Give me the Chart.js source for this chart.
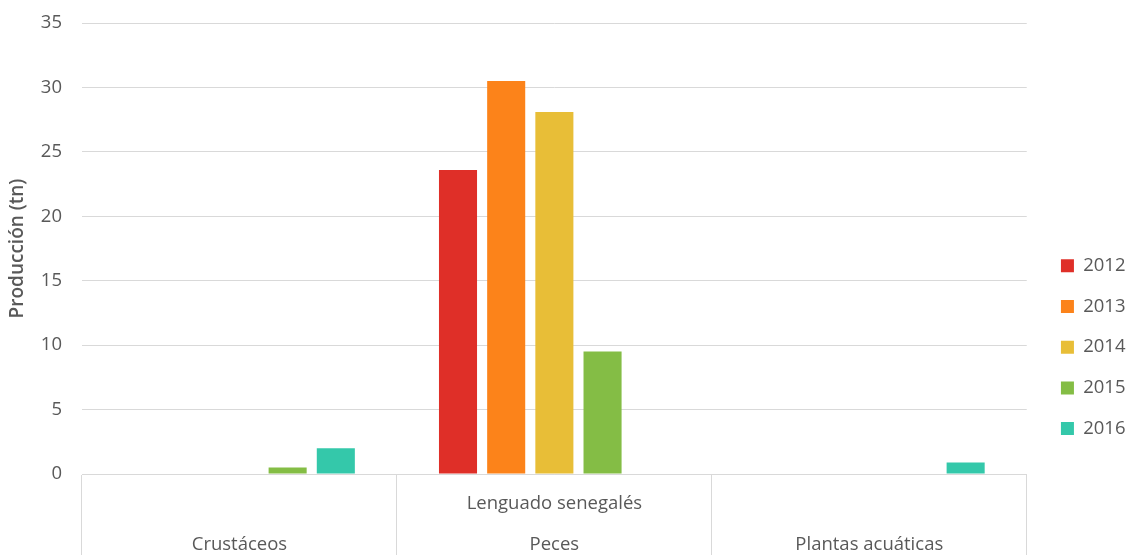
<!DOCTYPE html>
<html>
<head>
<meta charset="utf-8">
<script src="https://cdn.jsdelivr.net/npm/chart.js@4"></script>
<style>
  html, body { margin: 0; padding: 0; background: #fff; }
  #wrap { width: 1129px; height: 555px; }
</style>
</head>
<body>
<div id="wrap"><canvas id="chart"></canvas></div>
<script>
const categories = ['Crustáceos', 'Peces', 'Plantas acuáticas'];
const subLabels = ['', 'Lenguado senegalés', ''];
const years = ['2012', '2013', '2014', '2015', '2016'];
const v2012 = [null, 23.6, null];
const v2013 = [null, 30.5, null];
const v2014 = [null, 28.1, null];
const v2015 = [0.5, 9.5, null];
const v2016 = [2.0, null, 0.9];
const yTicks = [0, 5, 10, 15, 20, 25, 30, 35];

const colors = ['#df2f28', '#fc831a', '#e8be37', '#84bd45', '#34c8aa'];
const series = [v2012, v2013, v2014, v2015, v2016];
const grey = '#595959';
const gridCol = '#d9d9d9';
const font = 'Open Sans';

function loadChart(id) {
  const ctx = document.getElementById(id);
  new Chart(ctx, {
    type: 'bar',
    data: {
      labels: categories.map((c, i) => [subLabels[i], c]),
      datasets: years.map((y, i) => ({
        label: y,
        data: series[i],
        backgroundColor: colors[i],
        categoryPercentage: 0.765,
        barPercentage: 0.79
      }))
    },
    options: {
      responsive: true,
      maintainAspectRatio: false,
      animation: false,
      layout: { padding: { top: 23, right: -6.5, left: 0, bottom: 0 } },
      plugins: {
        tooltip: { enabled: false },
        legend: {
          position: 'right',
          align: 'center',
          title: { display: true, text: '', padding: { top: 0, bottom: 102 } },
          labels: {
            boxWidth: 13,
            boxHeight: 13,
            padding: 22.2,
            color: grey,
            font: { family: font, size: 18.5 }
          }
        }
      },
      scales: {
        x: {
          offset: true,
          afterFit: s => { s.height = 81; },
          grid: {
            offset: true,
            drawOnChartArea: false,
            tickLength: 81,
            color: gridCol,
            lineWidth: 1
          },
          border: { display: true, color: gridCol },
          ticks: {
            autoSkip: false,
            maxRotation: 0,
            padding: -71.5,
            color: grey,
            font: { family: font, size: 18.5, lineHeight: '41px' }
          }
        },
        y: {
          min: 0,
          max: 35,
          afterBuildTicks: s => { s.ticks = yTicks.map(v => ({ value: v })); },
          afterFit: s => { s.width = 82; s.paddingTop = 0; },
          grid: { color: gridCol, drawTicks: false },
          border: { display: false },
          title: {
            display: true,
            text: 'Producción (tn)',
            color: grey,
            font: { family: font, size: 19, weight: '600' },
            padding: { top: 6, bottom: 12 }
          },
          ticks: {
            padding: 20,
            color: grey,
            font: { family: font, size: 18.5 }
          }
        },
        // empty axis on the right, only keeps a gap before the legend
        gap: {
          axis: 'y',
          position: 'right',
          afterFit: s => { s.width = 12; },
          grid: { display: false },
          border: { display: false },
          ticks: { display: false }
        }
      }
    }
  });
}

loadChart('chart');
</script>
</body>
</html>
